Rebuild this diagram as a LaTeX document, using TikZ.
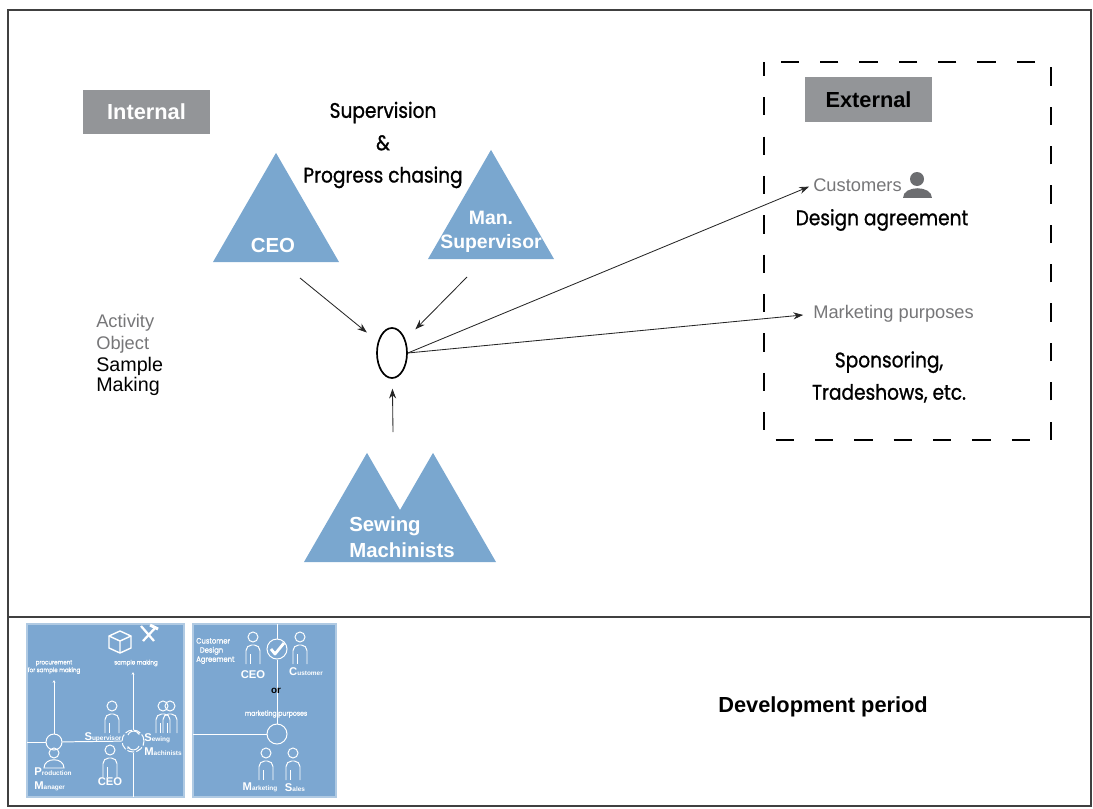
\documentclass[tikz,border=0pt]{standalone}
\usepackage{fontspec}
\setmainfont{Liberation Sans}
\newfontfamily\handfont{Poppins}[FakeStretch=0.88, FakeBold=1]
\usetikzlibrary{shapes.geometric,arrows.meta}

\definecolor{roleblue}{RGB}{122,167,207}
\definecolor{thumbblue}{RGB}{124,167,209}
\definecolor{taggray}{RGB}{147,149,152}
\definecolor{notegray}{RGB}{118,118,120}
\definecolor{icongray}{RGB}{108,109,112}

% word with a large first letter, as on the small cards
\newcommand{\bigini}[2]{{\fontsize{8}{8}\selectfont #1}{\fontsize{4.6}{5}\selectfont #2}}

\tikzset{
  pics/worker/.style={code={
    \draw[thumbline] (0,0) circle (5);
    \draw[thumbline, rounded corners=4] (-7,27) -- (-7,8) -- (7,8) -- (7,27);
    \draw[thumbline] (-3,17) -- (-3,27);
  }},
}

\begin{document}
\begin{tikzpicture}[x=0.025cm,y=-0.025cm,>={Stealth[length=7pt,width=5pt]}]
   \useasboundingbox (0,0) rectangle (1093,809);
   \tikzstyle{role}=[regular polygon, regular polygon sides=3, minimum size=3.64cm, inner sep=0pt, outer sep=0pt, fill=roleblue]
   \tikzstyle{rolename}=[text=white, font=\fontsize{14.5}{17}\selectfont\bfseries, inner sep=0pt]
   \tikzstyle{tag}=[fill=taggray, minimum width=3.175cm, minimum height=1.1cm, inner sep=0pt, font=\fontsize{15.5}{17}\selectfont\bfseries]
   \tikzstyle{hand}=[font=\handfont\fontsize{15}{23}\selectfont, align=center, inner sep=0pt]
   \tikzstyle{note}=[text=notegray, font=\fontsize{13}{15}\selectfont, inner sep=0pt]
   \tikzstyle{link}=[->, line width=0.6pt, black!85]
   \tikzstyle{thumbline}=[white, line width=0.7pt]
   \tikzstyle{hub}=[circle, draw=white, line width=0.7pt, minimum size=0.4cm, inner sep=0pt]
   \tikzstyle{thumbhand}=[text=white, font=\handfont\fontsize{4.5}{5.5}\selectfont, align=center, inner sep=0pt]
   \tikzstyle{thumbname}=[text=white, font=\bfseries, align=left, inner sep=0pt]

   % frame and period line
   \draw[line width=1pt, black!75] (8,10) rectangle (1091,806);
   \draw[line width=1pt, black!75] (8,617) -- (1091,617);

   % internal side
   \node[tag, text=white] (internal) at (146.5,112) {Internal};
   \node[role] (ceo) at (276,225.7) {};
   \node[rolename] at (273,245) {CEO};
   \node[role] (sup) at (491,222.7) {};
   \node[rolename, align=center, font=\fontsize{13.8}{16}\selectfont\bfseries] at (491,232) {Man.\\[1.5pt]Supervisor};
   \node[role] (sewA) at (367,525.7) {};
   \node[role] (sewB) at (433,525.7) {};
   \node[rolename, align=left, anchor=west] at (349,537) {Sewing\\[1.5pt]Machinists};
   \node[hand] (super) at (383,145) {Supervision\\\&\\Progress chasing};

   \node[note, anchor=base west, align=left, font=\fontsize{13}{15.6}\selectfont] (actlbl) at (96,349) {Activity\\Object};
   \node[anchor=base west, align=left, inner sep=0pt, font=\fontsize{14}{12.8}\selectfont] (objlbl) at (96,391) {Sample\\Making};

   % activity
   \node[draw, ellipse, line width=1.2pt, minimum width=0.75cm, minimum height=1.25cm, inner sep=0pt] (act) at (392,353) {};
   \coordinate (ceoTail) at (300,278);
   \coordinate (supTail) at (467,277);
   \coordinate (sewTail) at (393,432);
   \draw[link, shorten >=10pt] (ceoTail) -- (act);
   \draw[link, shorten >=10pt] (supTail) -- (act);
   \draw[link, shorten >=7pt] (sewTail) -- (act);

   % external side
   \draw[line width=1pt, dash pattern=on 13pt off 15pt, dash phase=3pt] (764,62) rectangle (1051,440);
   \node[tag] (external) at (868.5,99.5) {External};
   \node[note, anchor=west] (cust) at (813,185) {Customers};
   \fill[icongray] (917,179) circle (7);
   \fill[icongray] (903,198) .. controls (903,185) and (932,185) .. (932,198) -- cycle;
   \node[hand] (design) at (882,220) {Design agreement};
   \node[note, anchor=west] (mkt) at (813,314) {Marketing purposes};
   \node[hand] (sponsor) at (889,377) {Sponsoring,\\Tradeshows, etc.};
   \draw[link, shorten >=3pt] (act.east) -- (cust.west);
   \draw[link, shorten >=7pt] (act.east) -- (mkt.west);

   % development period
   \node[anchor=west, inner sep=0pt, font=\fontsize{15.5}{17}\selectfont\bfseries] (period) at (718,707) {Development period};

   % card: sample making
   \fill[thumbblue] (27,624) rectangle (184,797);
   \draw[white!40!thumbblue, line width=1.5pt] (27,624) rectangle (184,797);
   \node[hub] (pmHub) at (54,742) {};
   \node[hub, minimum size=0.55cm, dash pattern=on 5pt off 1.5pt] (cyc) at (133,741) {};
   \draw[thumbline, ->, >={Stealth[length=2pt,width=2pt]}] (128,735) arc[start angle=200, end angle=340, radius=6];
   \draw[thumbline, ->, >={Stealth[length=2pt,width=2pt]}] (139,746) arc[start angle=20, end angle=160, radius=6];
   \coordinate (pmUp) at (54,680);
   \coordinate (smUp) at (133,672);
   \draw[thumbline] (27,742) -- (pmHub);
   \draw[thumbline] (pmHub) -- (cyc);
   \draw[thumbline, ->, >={Stealth[length=2pt,width=2pt]}] (pmHub) -- (pmUp);
   \draw[thumbline, ->, >={Stealth[length=2pt,width=2pt]}] (cyc) -- (smUp);
   \draw[thumbline] (cyc) -- (133,797);
   \node[thumbhand] at (54,667) {procurement\\for sample making};
   \node[thumbhand] at (136,663) {sample making};
   \draw[white, line width=1pt, line join=round] (109,636) -- (120,631) -- (131,636) -- (131,648) -- (120,653) -- (109,648) -- cycle;
   \draw[white, line width=1pt] (109,636) -- (120,641) -- (131,636) (120,641) -- (120,653);
   \draw[white, line width=1.6pt] (141,626) -- (154,641) (156,627) -- (143,641);
   \draw[white, line width=2.2pt] (150,625) -- (158,629);
   \pic at (112,706) {worker};
   \pic at (110,750) {worker};
   \pic at (163,706) {worker};
   \pic at (170,706) {worker};
   \draw[thumbline] (54,753) circle (5);
   \draw[thumbline] (44,768) .. controls (44,757) and (64,757) .. (64,768) -- cycle;
   \node[thumbname] at (103,737) {\bigini{S}{upervisor}};
   \node[thumbname] at (110,782) {\fontsize{8}{8}\selectfont CEO};
   \node[thumbname] at (163,745) {\bigini{S}{ewing}\\[-2pt]\bigini{M}{achinists}};
   \node[thumbname] at (53,779) {\bigini{P}{roduction}\\[-2pt]\bigini{M}{anager}};

   % card: agreement
   \fill[thumbblue] (193,624) rectangle (336,797);
   \draw[white!40!thumbblue, line width=1.5pt] (193,624) rectangle (336,797);
   \node[hub, minimum size=0.5cm] (check) at (277,649) {};
   \node[hub, minimum size=0.5cm] (mpHub) at (277,734) {};
   \coordinate (cardTop) at (277,624);
   \coordinate (cardLeft) at (193,734);
   \draw[thumbline] (cardTop) -- (check);
   \draw[thumbline] (check) -- (mpHub);
   \draw[thumbline] (cardLeft) -- (mpHub);
   \draw[white, line width=2pt, line join=round] (271,649) -- (275,654) -- (284,643);
   \node[thumbhand, align=left, anchor=west, font=\handfont\fontsize{5.5}{6.5}\selectfont] at (196,651) {Customer\\\ \ Design\\Agreement};
   \pic at (253,637) {worker};
   \pic at (300,637) {worker};
   \node[thumbname] at (253,675) {\fontsize{8}{8}\selectfont CEO};
   \node[thumbname] at (306,672) {\bigini{C}{ustomer}};
   \node[inner sep=0pt, font=\bfseries\fontsize{7}{7}\selectfont] (or) at (276,691) {or};
   \node[thumbhand, font=\handfont\fontsize{5}{6}\selectfont] at (276,714) {marketing purposes};
   \pic at (266,753) {worker};
   \pic at (293,753) {worker};
   \node[thumbname] at (260,787) {\bigini{M}{arketing}};
   \node[thumbname] at (295,788) {\bigini{S}{ales}};
\end{tikzpicture}
\end{document}
